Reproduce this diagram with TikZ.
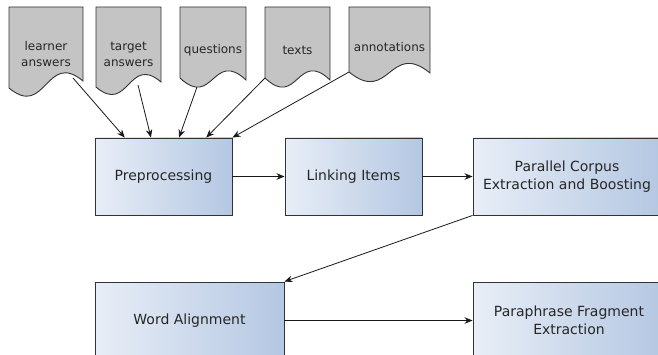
\documentclass[tikz,border=0pt]{standalone}
\usepackage{fontspec}
\setmainfont{DejaVu Sans}
\usetikzlibrary{arrows.meta,calc}
\definecolor{docfill}{HTML}{C4C4C4}
\definecolor{edgec}{HTML}{333333}
\definecolor{boxl}{HTML}{E8EEF7}
\definecolor{boxr}{HTML}{B4C7E2}
\tikzset{
 docshape/.style={draw=edgec, fill=docfill, line width=0.9pt},
 doclabel/.style={font=\fontsize{12}{16}\selectfont, align=center, text=black!85, inner sep=0pt},
 procbox/.style={draw=edgec, line width=0.9pt, left color=boxl, right color=boxr, inner sep=0pt, align=center, font=\fontsize{14}{18}\selectfont, text=black!85},
 flow/.style={-{Stealth[length=8pt,width=6.5pt]}, line width=0.8pt, black!90},
}
\begin{document}
\begin{tikzpicture}[x=1pt,y=-1pt]
\useasboundingbox (0,0) rectangle (658,355);
\clip (0,0) rectangle (658,355);
% documents
\draw[docshape] (9,7) -- (83,7) -- (83,81) .. controls (46,50) and (46,119) .. (9,88) -- cycle;
\node[doclabel] (dla) at (46,54) {learner\\answers};
\draw[docshape] (96,7) -- (161,7) -- (161,82) .. controls (128.5,54) and (128.5,115) .. (96,87) -- cycle;
\node[doclabel] (dta) at (128.5,54) {target\\answers};
\draw[docshape] (180,7) -- (246,7) -- (246,80) .. controls (213,49) and (213,109) .. (180,78) -- cycle;
\node[doclabel] (dq) at (213,50) {questions};
\draw[docshape] (265,7) -- (330,7) -- (330,80) .. controls (297.5,49) and (297.5,109) .. (265,78) -- cycle;
\node[doclabel] (dt) at (297.5,50) {texts};
\draw[docshape] (349,7) -- (430,7) -- (430,73) .. controls (389.5,40) and (389.5,105) .. (349,72) -- cycle;
\node[doclabel] (dan) at (389.5,47) {annotations};
\coordinate (la) at (73,78);
\coordinate (ta) at (138,85);
\coordinate (qa) at (197,87);
\coordinate (tx) at (265,78);
\coordinate (an) at (349,72);
% process boxes
\node[procbox, minimum width=137pt, minimum height=77pt] (pre) at (163.5,176.5) {Preprocessing};
\node[procbox, minimum width=137pt, minimum height=77pt] (link) at (353.5,176.5) {Linking Items};
\node[procbox, minimum width=188pt, minimum height=77pt] (par) at (567,176.5) {Parallel Corpus\\Extraction and Boosting};
\node[procbox, minimum width=189pt, minimum height=77pt] (wa) at (189.5,320.5) {Word Alignment};
\node[procbox, minimum width=192pt, minimum height=77pt] (para) at (569,320.5) {Paraphrase Fragment\\Extraction};
% connectors
\draw[flow] (la) -- ($(pre.north west)!0.219!(pre.north east)$);
\draw[flow] (ta) -- ($(pre.north west)!0.409!(pre.north east)$);
\draw[flow] (qa) -- ($(pre.north west)!0.613!(pre.north east)$);
\draw[flow] (tx) -- ($(pre.north west)!0.81!(pre.north east)$);
\draw[flow] (an) -- (pre.north east);
\draw[flow] (pre.east) -- (link.west);
\draw[flow] (link.east) -- (par.west);
\draw[flow] (par.south west) -- (wa.north east);
\draw[flow] (wa.east) -- (para.west);
\end{tikzpicture}
\end{document}
